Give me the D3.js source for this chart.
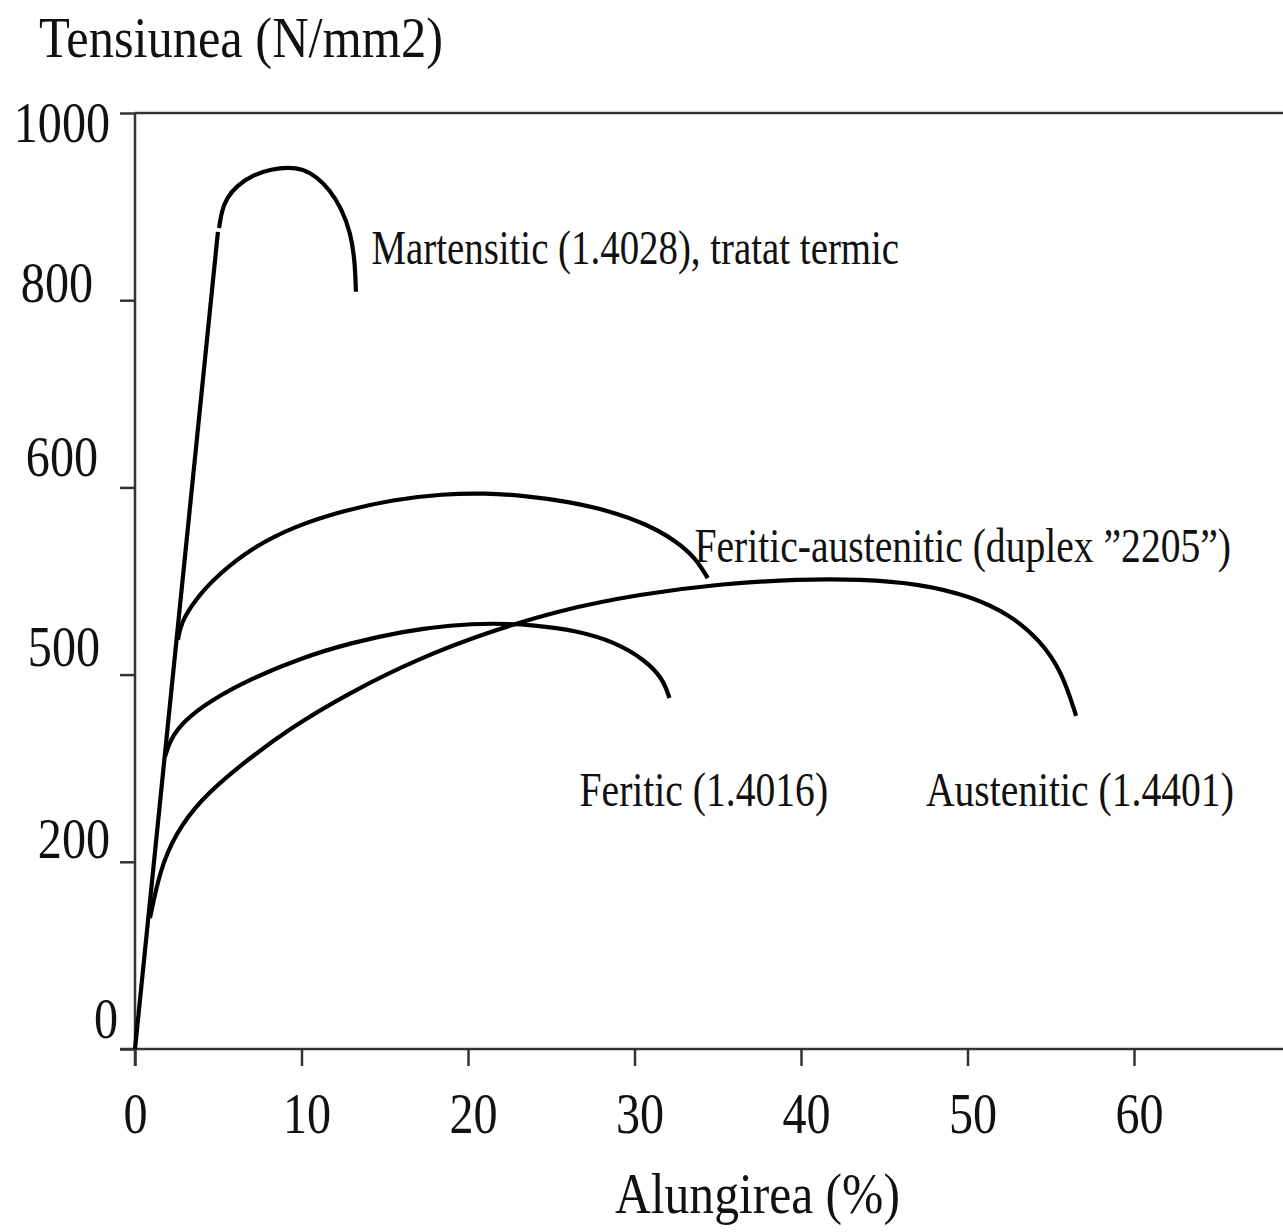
<!DOCTYPE html>
<html>
<head>
<meta charset="utf-8">
<script src="https://cdn.jsdelivr.net/npm/d3@7"></script>
<style>
  html, body { margin: 0; padding: 0; background: #fff; }
  svg { display: block; }
  text { font-family: "Liberation Serif", "Times New Roman", serif; fill: #111; }
</style>
</head>
<body>
<svg id="chart" width="1283" height="1232"></svg>
<script>
// axis ticks
const strainTicks = [0, 10, 20, 30, 40, 50, 60];
const stressTicks = [0, 200, 400, 600, 800, 1000];
const stressTickLabels = ['0', '200', '500', '600', '800', '1000'];

// curves: [elongation %, stress]
const elastic = [[0, 0], [4.98, 873]];
const martensitic = [[5.05, 877], [5.2, 895], [5.5, 909], [6.1, 922], [7.1, 934], [8.2, 940], [9.2, 942],
    [10.1, 940], [10.9, 932], [11.7, 918], [12.4, 898], [12.95, 872], [13.2, 843], [13.27, 809]];
const duplex = [[2.58, 437], [2.75, 455], [3.6, 480], [5.0, 507], [7.0, 535], [9.5, 558], [12.5, 575],
    [15.5, 587], [18.5, 593], [21.0, 594], [23.5, 591], [26.0, 585], [28.5, 575], [30.7, 561],
    [32.5, 543], [33.7, 524], [34.4, 503]];
const feritic = [[1.8, 312], [2.1, 330], [2.9, 350], [4.5, 372], [7.0, 396], [10.0, 418], [13.0, 434],
    [16.0, 446], [19.0, 453], [21.5, 455], [24.0, 453], [26.5, 447], [28.8, 435], [30.6, 416],
    [31.7, 396], [32.1, 375]];
const austenitic = [[0.9, 140], [1.5, 191], [2.4, 229], [3.9, 266], [6.31, 303], [9.31, 343], [12.91, 381],
    [17.12, 418], [21.32, 446], [25.53, 469], [30.33, 486], [35.14, 497], [39.94, 502], [43.54, 502],
    [47.15, 497], [50.15, 484], [52.55, 464], [54.35, 437], [55.68, 403], [56.52, 356]];

const curveLabels = [
    { text: 'Martensitic (1.4028), tratat termic', at: [14.2, 839] },
    { text: 'Feritic-austenitic (duplex ”2205”)', at: [33.6, 520] },
    { text: 'Feritic (1.4016)', at: [26.7, 260] },
    { text: 'Austenitic (1.4401)', at: [47.5, 260] }
];

const yTitle = 'Tensiunea (N/mm2)';
const xTitle = 'Alungirea (%)';

// layout
const chartW = 1283;
const plotLeft = 135, plotBottom = 1049, plotTop = 113;
const squeeze = 0.83;
// small hand nudges of the y tick labels [dx, dy]
const yLabelNudge = [[10, -10], [2, -2], [-8, -7], [-10, -10], [-15, 3], [2, 30]];

const svg = d3.select('#chart');

const x = d3.scaleLinear().domain([0, 60]).range([plotLeft, 1134]);
const y = d3.scaleLinear().domain([0, 1000]).range([plotBottom, plotTop]);

const axisColor = '#333';

// x axis
const gx = svg.append('g')
    .attr('transform', `translate(0,${plotBottom})`)
    .call(d3.axisBottom(x).tickValues(strainTicks).tickSize(17).tickSizeOuter(0));
gx.select('.domain').remove();
gx.selectAll('.tick line').attr('stroke', axisColor).attr('stroke-width', 2.5);
gx.selectAll('.tick text')
    .attr('x', null).attr('y', null).attr('dy', null)
    .attr('text-anchor', 'middle')
    .attr('font-size', 58)
    .attr('fill', '#111')
    .attr('transform', d => `translate(${d === 0 ? 0 : 5},84) scale(${squeeze},1)`)
    .text(d => d);

// y axis
const gy = svg.append('g')
    .attr('transform', `translate(${plotLeft},0)`)
    .call(d3.axisLeft(y).tickValues(stressTicks).tickSize(15).tickSizeOuter(0));
gy.select('.domain').remove();
gy.selectAll('.tick line').attr('stroke', axisColor).attr('stroke-width', 2.5);
gy.selectAll('.tick text')
    .attr('x', null).attr('y', null).attr('dy', null)
    .attr('text-anchor', 'end')
    .attr('font-size', 58)
    .attr('fill', '#111')
    .attr('transform', (d, i) => `translate(${-27 + yLabelNudge[i][0]},${-2 + yLabelNudge[i][1]}) scale(${squeeze},1)`)
    .text((d, i) => stressTickLabels[i]);

// axis lines and top frame line
const frame = svg.append('g').attr('stroke', axisColor).attr('stroke-width', 2.5);
frame.append('line').attr('x1', plotLeft - 15).attr('x2', chartW).attr('y1', plotBottom).attr('y2', plotBottom);
frame.append('line').attr('x1', plotLeft).attr('x2', plotLeft).attr('y1', plotTop).attr('y2', plotBottom + 17);
frame.append('line').attr('x1', plotLeft).attr('x2', chartW).attr('y1', y(1000)).attr('y2', y(1000));

// curves
const smooth = d3.line()
    .x(d => x(d[0]))
    .y(d => y(d[1]))
    .curve(d3.curveBasis);
const straight = d3.line().x(d => x(d[0])).y(d => y(d[1]));

const curves = svg.append('g')
    .attr('fill', 'none')
    .attr('stroke', '#000')
    .attr('stroke-width', 4.2)
    .attr('stroke-linecap', 'butt');
curves.append('path').attr('d', straight(elastic));
[martensitic, duplex, feritic, austenitic].forEach(s => {
    curves.append('path').attr('d', smooth(s));
});

// curve labels
svg.append('g').selectAll('text')
    .data(curveLabels)
    .enter()
    .append('text')
    .attr('font-size', 48)
    .attr('transform', (d, i) => `translate(${x(d.at[0])},${y(d.at[1])}) scale(${i === 0 ? 0.81 : 0.825},1)`)
    .text(d => d.text);

// titles
svg.append('text')
    .attr('font-size', 57)
    .attr('transform', `translate(39,57) scale(0.885,1)`)
    .text(yTitle);
svg.append('text')
    .attr('font-size', 57)
    .attr('transform', `translate(615,1213) scale(0.87,1)`)
    .text(xTitle);
</script>
</body>
</html>
